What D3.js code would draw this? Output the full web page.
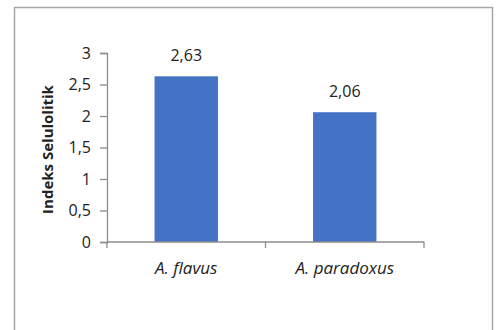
<!DOCTYPE html>
<html>
<head>
<meta charset="utf-8">
<script src="https://cdn.jsdelivr.net/npm/d3@7"></script>
<style>
  html, body { margin: 0; padding: 0; background: #fff; }
  svg { display: block; }
</style>
</head>
<body>
<svg id="chart" width="502" height="330"></svg>
<script>
// Cellulolytic index per fungal isolate
const categories = ["A. flavus", "A. paradoxus"];
const values = [2.63, 2.06];
const valueLabels = ["2,63", "2,06"];
const yTicks = [0, 0.5, 1, 1.5, 2, 2.5, 3];
const yTickLabels = ["0", "0,5", "1", "1,5", "2", "2,5", "3"];
const yTitle = "Indeks Selulolitik";

const svg = d3.select("#chart");
const font = "'Open Sans', sans-serif";
const axisColor = "#8c8c8c";
const textColor = "#222";

// outer chart frame
svg.append("rect")
  .attr("x", 14.5).attr("y", 7.5)
  .attr("width", 478).attr("height", 340)
  .attr("fill", "#fff")
  .attr("stroke", "#a6a6a6")
  .attr("stroke-width", 1.5);

const plot = { left: 107, right: 424, top: 53, bottom: 242 };

const x = d3.scaleBand()
  .domain(categories)
  .range([plot.left, plot.right])
  .paddingInner(0.6)
  .paddingOuter(0.3);

const y = d3.scaleLinear()
  .domain([0, 3])
  .range([plot.bottom, plot.top]);

// bars
svg.append("g").selectAll("rect")
  .data(values)
  .join("rect")
  .attr("x", (d, i) => x(categories[i]))
  .attr("width", x.bandwidth())
  .attr("y", d => y(d))
  .attr("height", d => y(0) - y(d))
  .attr("fill", "#4472C4");

// value labels above bars
svg.append("g").selectAll("text")
  .data(values)
  .join("text")
  .attr("x", (d, i) => x(categories[i]) + x.bandwidth() / 2)
  .attr("y", d => y(d) - 15)
  .attr("text-anchor", "middle")
  .attr("font-family", font)
  .attr("font-size", 16)
  .attr("fill", textColor)
  .text((d, i) => valueLabels[i]);

// y axis
const yAxis = d3.axisLeft(y)
  .tickValues(yTicks)
  .tickFormat((d, i) => yTickLabels[i])
  .tickSizeOuter(0)
  .tickSize(7)
  .tickPadding(9);

const gy = svg.append("g")
  .attr("transform", `translate(${plot.left},0)`)
  .call(yAxis);
gy.selectAll("line, path").attr("stroke", axisColor).attr("stroke-width", 1.3);
gy.selectAll("text")
  .attr("font-family", font)
  .attr("font-size", 16)
  .attr("fill", textColor);

// x axis with ticks at category boundaries
const boundaries = [plot.left, (x(categories[0]) + x.bandwidth() + x(categories[1])) / 2, plot.right];
const gx = svg.append("g");
gx.append("line")
  .attr("x1", plot.left).attr("x2", plot.right)
  .attr("y1", plot.bottom).attr("y2", plot.bottom)
  .attr("stroke", axisColor).attr("stroke-width", 1.3);
gx.selectAll("line.tick")
  .data(boundaries)
  .join("line")
  .attr("class", "tick")
  .attr("x1", d => d).attr("x2", d => d)
  .attr("y1", plot.bottom).attr("y2", plot.bottom + 6)
  .attr("stroke", axisColor).attr("stroke-width", 1.3);
gx.selectAll("text")
  .data(categories)
  .join("text")
  .attr("x", d => x(d) + x.bandwidth() / 2)
  .attr("y", plot.bottom + 32)
  .attr("text-anchor", "middle")
  .attr("font-family", font)
  .attr("font-style", "italic")
  .attr("font-size", 17)
  .attr("fill", textColor)
  .text(d => d);

// y axis title
svg.append("text")
  .attr("transform", `translate(53,${(plot.top + plot.bottom) / 2 + 2}) rotate(-90)`)
  .attr("text-anchor", "middle")
  .attr("font-family", font)
  .attr("font-weight", "bold")
  .attr("font-size", 15)
  .attr("fill", textColor)
  .text(yTitle);
</script>
</body>
</html>
